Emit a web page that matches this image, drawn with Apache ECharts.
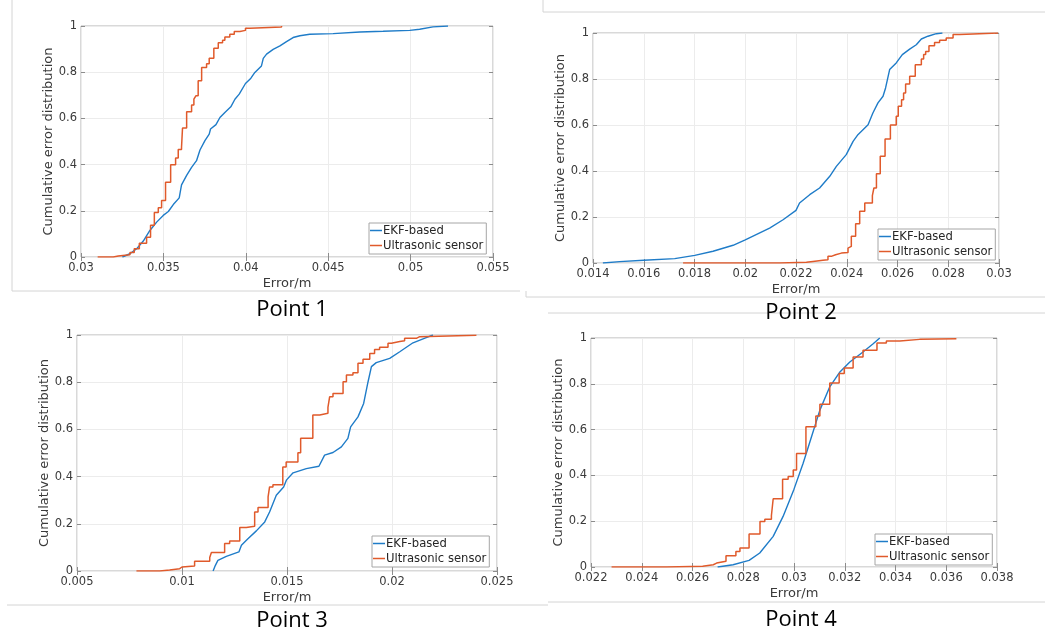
<!DOCTYPE html>
<html><head><meta charset="utf-8">
<script src="https://cdn.jsdelivr.net/npm/echarts@6/dist/echarts.min.js"></script>
<style>html,body{margin:0;padding:0;background:#fff}#c{width:1045px;height:636px}</style>
</head><body><div id="c"></div><script>
// ---------- data ----------
const seriesNames = ['EKF-based', 'Ultrasonic sensor'];
const panelTitles = ['Point 1', 'Point 2', 'Point 3', 'Point 4'];
const yTicks = [0, 0.2, 0.4, 0.6, 0.8, 1];

const p1XTicks = [0.03, 0.035, 0.04, 0.045, 0.05, 0.055];
const p1EkfX = [0.03251,0.03297,0.03338,0.03378,0.03418,0.03459,0.03499,0.0353,0.0356,0.03596,0.03604,0.0361,0.03641,0.03671,0.03701,0.03722,0.03752,0.03778,0.03786,0.03819,0.03843,0.03873,0.03909,0.03934,0.0396,0.03998,0.04031,0.04055,0.04095,0.04106,0.04126,0.04166,0.04207,0.04247,0.04287,0.04328,0.04388,0.0453,0.04692,0.04833,0.04995,0.05055,0.05136,0.05227];
const p1EkfY = [0,0.014,0.036,0.069,0.115,0.151,0.18,0.197,0.227,0.256,0.288,0.312,0.353,0.388,0.417,0.463,0.504,0.532,0.554,0.573,0.604,0.626,0.65,0.683,0.705,0.751,0.774,0.799,0.827,0.86,0.878,0.899,0.914,0.932,0.95,0.958,0.964,0.967,0.974,0.977,0.981,0.986,0.996,1];
const p1UsX = [0.03101,0.03196,0.03226,0.03297,0.03323,0.03354,0.03398,0.03422,0.03445,0.03469,0.03489,0.03513,0.03544,0.03574,0.0359,0.0361,0.03616,0.03641,0.03671,0.03685,0.03697,0.03711,0.03732,0.03762,0.03778,0.03806,0.03833,0.03859,0.03873,0.03903,0.0393,0.03964,0.03998,0.04025,0.04217];
const p1UsY = [0,0.004,0.01,0.02,0.036,0.06,0.086,0.137,0.193,0.213,0.245,0.324,0.399,0.429,0.465,0.475,0.558,0.629,0.658,0.683,0.698,0.763,0.82,0.837,0.86,0.904,0.928,0.938,0.952,0.964,0.976,0.981,0.99,0.996,1];

const p2XTicks = [0.014, 0.016, 0.018, 0.02, 0.022, 0.024, 0.026, 0.028, 0.03];
const p2EkfX = [0.01439,0.01505,0.016,0.01722,0.01801,0.01873,0.01952,0.02,0.02096,0.02149,0.022,0.02214,0.02254,0.02293,0.02333,0.02359,0.02398,0.02425,0.02444,0.02484,0.02503,0.02523,0.02543,0.02553,0.02569,0.02595,0.02619,0.02648,0.02674,0.02694,0.0272,0.02753,0.02777];
const p2EkfY = [0,0.006,0.012,0.019,0.033,0.051,0.077,0.101,0.152,0.188,0.229,0.261,0.297,0.326,0.377,0.42,0.471,0.529,0.558,0.601,0.652,0.696,0.725,0.761,0.841,0.87,0.906,0.93,0.949,0.974,0.986,0.997,1];
const p2UsX = [0.01755,0.02136,0.02241,0.02267,0.02306,0.02326,0.02339,0.02356,0.02379,0.02405,0.02411,0.02418,0.02435,0.02451,0.02471,0.02501,0.02507,0.02517,0.02532,0.02551,0.02572,0.02595,0.02603,0.02616,0.02624,0.02632,0.02648,0.0267,0.02694,0.02703,0.02711,0.02724,0.02746,0.02766,0.02792,0.02819,0.02845,0.02898,0.02996];
const p2UsY = [0,0.003,0.007,0.012,0.014,0.029,0.036,0.043,0.046,0.065,0.072,0.116,0.171,0.225,0.261,0.293,0.326,0.388,0.464,0.539,0.6,0.638,0.681,0.71,0.739,0.778,0.812,0.862,0.887,0.906,0.92,0.945,0.959,0.968,0.978,0.993,0.996,1,1];

const p3XTicks = [0.005, 0.01, 0.015, 0.02, 0.025];
const p3EkfX = [0.01148,0.01159,0.01171,0.01211,0.01271,0.01283,0.01314,0.01354,0.01394,0.01417,0.01449,0.01484,0.01497,0.01529,0.01592,0.01652,0.01679,0.01719,0.01759,0.0179,0.01803,0.01838,0.01865,0.01886,0.01902,0.01925,0.01989,0.02037,0.021,0.02163,0.02195];
const p3EkfY = [0,0.024,0.045,0.062,0.081,0.109,0.137,0.17,0.208,0.25,0.321,0.356,0.385,0.416,0.434,0.444,0.491,0.502,0.526,0.562,0.611,0.653,0.71,0.802,0.866,0.883,0.901,0.929,0.967,0.989,1];
const p3UsX = [0.00783,0.00894,0.00941,0.00989,0.01,0.0106,0.01132,0.0114,0.01203,0.01227,0.01275,0.01306,0.01346,0.01362,0.0141,0.01417,0.01433,0.0148,0.01496,0.01552,0.01565,0.01623,0.01656,0.01695,0.01703,0.01719,0.01767,0.01783,0.01814,0.01838,0.01862,0.01894,0.01917,0.01941,0.01981,0.01997,0.02037,0.0206,0.02116,0.02132,0.02402];
const p3UsY = [0,0.004,0.01,0.017,0.021,0.041,0.057,0.078,0.116,0.127,0.184,0.19,0.25,0.269,0.314,0.356,0.365,0.441,0.462,0.501,0.562,0.661,0.668,0.693,0.738,0.752,0.802,0.83,0.84,0.88,0.897,0.922,0.939,0.948,0.965,0.972,0.976,0.986,0.993,0.999,1];

const p4XTicks = [0.022, 0.024, 0.026, 0.028, 0.03, 0.032, 0.034, 0.036, 0.038];
const p4EkfX = [0.02699,0.0276,0.02823,0.02865,0.02918,0.02957,0.03,0.03036,0.03069,0.03102,0.03141,0.03181,0.0322,0.03272,0.03312,0.03338];
const p4EkfY = [0,0.01,0.029,0.061,0.134,0.221,0.34,0.453,0.569,0.685,0.787,0.852,0.895,0.939,0.975,1];
const p4UsX = [0.02281,0.02498,0.0264,0.02645,0.02682,0.02695,0.02732,0.02771,0.02787,0.02823,0.02866,0.02885,0.02911,0.02918,0.02955,0.02977,0.02997,0.0301,0.03047,0.03086,0.03102,0.03141,0.03178,0.03198,0.03233,0.03272,0.03327,0.03364,0.03417,0.03495,0.0364];
const p4UsY = [0,0.003,0.006,0.01,0.017,0.025,0.049,0.068,0.083,0.144,0.199,0.209,0.225,0.298,0.383,0.395,0.424,0.496,0.612,0.659,0.711,0.804,0.845,0.869,0.917,0.946,0.978,0.987,0.994,0.997,1];

// ---------- layout ----------
const panels = [
  {ticks:p1XTicks, ekf:[p1EkfX,p1EkfY], us:[p1UsX,p1UsY], grid:{left:81,top:26,width:412,height:231}, legend:{left:369,top:223}, title:[292,310]},
  {ticks:p2XTicks, ekf:[p2EkfX,p2EkfY], us:[p2UsX,p2UsY], grid:{left:593,top:33,width:406,height:230}, legend:{left:878,top:229}, title:[801,313]},
  {ticks:p3XTicks, ekf:[p3EkfX,p3EkfY], us:[p3UsX,p3UsY], grid:{left:77,top:335,width:420,height:236}, legend:{left:372,top:536}, title:[292,621]},
  {ticks:p4XTicks, ekf:[p4EkfX,p4EkfY], us:[p4UsX,p4UsY], grid:{left:591,top:338,width:406,height:229}, legend:{left:875,top:534}, title:[801,620]}
];
const BLUE = '#1f7cc8', ORANGE = '#e05a2b';
const TXT = '#3a3a3a';
const FONT = 'DejaVu Sans';
const zip = (xs, ys) => xs.map((x, i) => [x, ys[i]]);
const fmt = v => String(+v.toFixed(4));

const grid = [], xAxis = [], yAxis = [], series = [], legend = [], graphic = [];
panels.forEach((p, i) => {
  const t = p.ticks;
  const xmin = t[0], xmax = t[t.length - 1], xint = +(t[1] - t[0]).toFixed(6);
  const ymin = yTicks[0], ymax = yTicks[yTicks.length - 1], yint = +(yTicks[1] - yTicks[0]).toFixed(6);
  grid.push(Object.assign({show:true, borderColor:'#b3b3b3', borderWidth:1, backgroundColor:'#fff', containLabel:false}, p.grid));
  xAxis.push({
    type:'value', gridIndex:i, min:xmin, max:xmax, interval:xint, position:'bottom',
    name:'Error/m', nameLocation:'middle', nameGap:20,
    nameTextStyle:{color:TXT, fontSize:13, fontFamily:FONT},
    axisLine:{show:false}, axisTick:{show:true, inside:true, length:4, lineStyle:{color:'#8c8c8c'}},
    axisLabel:{color:TXT, fontSize:11.5, fontFamily:FONT, margin:5, formatter:fmt, showMinLabel:true, showMaxLabel:true},
    splitLine:{show:true, lineStyle:{color:'#ececec', width:1}}
  });
  xAxis.push({
    type:'value', gridIndex:i, min:xmin, max:xmax, interval:xint, position:'top',
    axisLine:{show:false}, axisTick:{show:true, inside:true, length:4, lineStyle:{color:'#8c8c8c'}},
    axisLabel:{show:false}, splitLine:{show:false}
  });
  yAxis.push({
    type:'value', gridIndex:i, min:ymin, max:ymax, interval:yint, position:'left',
    name:'Cumulative error distribution', nameLocation:'middle', nameGap:25,
    nameTextStyle:{color:TXT, fontSize:13, fontFamily:FONT},
    axisLine:{show:false}, axisTick:{show:true, inside:true, length:4, lineStyle:{color:'#8c8c8c'}},
    axisLabel:{color:TXT, fontSize:11.5, fontFamily:FONT, margin:4, formatter:fmt},
    splitLine:{show:true, lineStyle:{color:'#ececec', width:1}}
  });
  yAxis.push({
    type:'value', gridIndex:i, min:ymin, max:ymax, interval:yint, position:'right',
    axisLine:{show:false}, axisTick:{show:true, inside:true, length:4, lineStyle:{color:'#8c8c8c'}},
    axisLabel:{show:false}, splitLine:{show:false}
  });
  series.push({
    name:seriesNames[0], type:'line', xAxisIndex:2*i, yAxisIndex:2*i,
    data:zip(p.ekf[0], p.ekf[1]), showSymbol:false, symbol:'none',
    lineStyle:{color:BLUE, width:1.4}, itemStyle:{color:BLUE}, z:3, animation:false
  });
  series.push({
    name:seriesNames[1], type:'line', xAxisIndex:2*i, yAxisIndex:2*i, step:'end',
    data:zip(p.us[0], p.us[1]), showSymbol:false, symbol:'none',
    lineStyle:{color:ORANGE, width:1.5}, itemStyle:{color:ORANGE}, z:4, animation:false
  });
  legend.push({
    data:seriesNames, orient:'vertical', left:p.legend.left, top:p.legend.top,
    icon:'rect', itemWidth:12, itemHeight:1.5, itemGap:0,
    padding:[0, 3, 1, 1], borderColor:'#a6a6a6', borderWidth:1, backgroundColor:'#fff',
    textStyle:{color:'#262626', fontSize:11.6, fontFamily:FONT, lineHeight:15, padding:[0,0,0,-4]},
    selectedMode:false, z:10
  });
  graphic.push({
    type:'text', x:p.title[0], y:p.title[1],
    style:{text:panelTitles[i], fill:'#000', font:'22px "Open Sans"', textAlign:'center', textVerticalAlign:'middle'},
    z:20
  });
});

// faint frame lines from the original figure composition
const frameLines = [
  [12,0,12,291],[12,291,520,291],
  [543,0,543,12],[543,12,1045,12],
  [526,291,526,297],[526,297,1045,297],[548,313,1045,313],
  [7,605,548,605],[548,602,1045,602]
];
frameLines.forEach(l => graphic.push({
  type:'line', shape:{x1:l[0], y1:l[1], x2:l[2], y2:l[3]},
  style:{stroke:'#d4d4d4', lineWidth:1}, z:0, silent:true
}));

const chart = echarts.init(document.getElementById('c'), null, {renderer:'canvas'});
chart.setOption({
  backgroundColor:'#fff', animation:false,
  grid, xAxis, yAxis, series, legend, graphic
});
</script></body></html>
